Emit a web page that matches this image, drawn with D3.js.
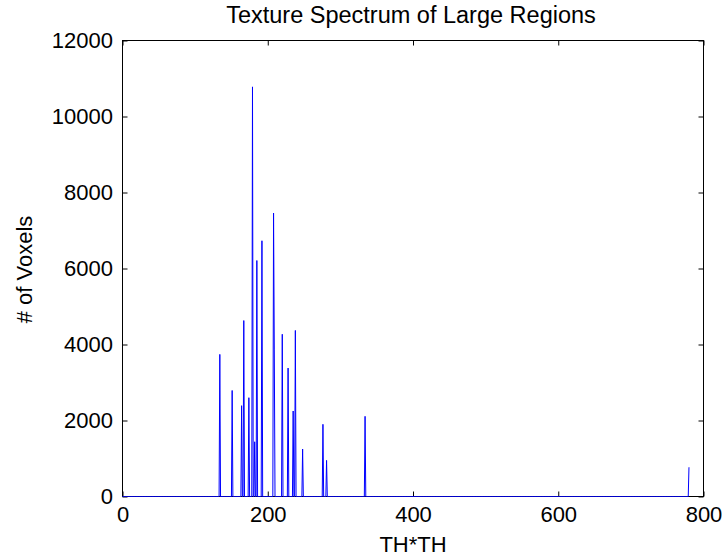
<!DOCTYPE html>
<html>
<head>
<meta charset="utf-8">
<script src="https://cdn.jsdelivr.net/npm/d3@7"></script>
<style>
  html, body { margin: 0; padding: 0; background: #fff; }
  svg { display: block; }
  text { font-family: "Liberation Sans", Arial, Helvetica, sans-serif; fill: #000; }
</style>
</head>
<body>
<svg id="chart" width="725" height="556"></svg>
<script>
// Texture spectrum: voxel counts per TH*TH bin (bins not listed hold zero voxels)
const binRange = [0, 780];
const thValues    = [134, 151, 164, 167, 174, 179, 182, 185, 192, 208, 209, 220, 228, 235, 238, 248, 276, 281, 334, 780];
const voxelCounts = [3740, 2790, 2390, 4630, 2600, 10780, 1440, 6210, 6730, 7460, 3880, 4270, 3380, 2250, 4370, 1250, 1900, 950, 2110, 770];
const xTicks = [0, 200, 400, 600, 800];
const yTicks = [0, 2000, 4000, 6000, 8000, 10000, 12000];
const titleText = "Texture Spectrum of Large Regions";
const xLabel = "TH*TH";
const yLabel = "# of Voxels";

// full histogram over every integer bin
const countByBin = new Map(thValues.map((v, i) => [v, voxelCounts[i]]));
const series = d3.range(binRange[0], binRange[1] + 1).map(b => ({ x: b, y: countByBin.get(b) || 0 }));

const svg = d3.select("#chart");
const plotLeft = 122.5, plotRight = 703.5, plotTop = 40.5, plotBottom = 496.5;

const x = d3.scaleLinear().domain([0, 800]).range([plotLeft, plotRight]);
const y = d3.scaleLinear().domain([0, 12000]).range([plotBottom, plotTop]);

const fs = 22;

// axes with inward ticks on all four sides
const styleAxis = g => {
  g.select(".domain").remove();
  g.selectAll(".tick line").attr("stroke", "#000").attr("stroke-width", 1);
  g.selectAll("text").attr("font-size", fs).attr("font-family", "Liberation Sans, Arial, sans-serif").attr("fill", "#000");
};

svg.append("g")
  .attr("transform", `translate(0,${plotBottom})`)
  .call(d3.axisBottom(x).tickValues(xTicks).tickFormat(d3.format("d")).tickSizeInner(-5).tickSizeOuter(0).tickPadding(9.5))
  .call(styleAxis);

svg.append("g")
  .attr("transform", `translate(${plotLeft},0)`)
  .call(d3.axisLeft(y).tickValues(yTicks).tickFormat(d3.format("d")).tickSizeInner(-5).tickSizeOuter(0).tickPadding(9.5))
  .call(styleAxis);

svg.append("g")
  .attr("transform", `translate(0,${plotTop})`)
  .call(d3.axisTop(x).tickValues(xTicks).tickFormat("").tickSizeInner(-5).tickSizeOuter(0))
  .call(styleAxis);

svg.append("g")
  .attr("transform", `translate(${plotRight},0)`)
  .call(d3.axisRight(y).tickValues(yTicks).tickFormat("").tickSizeInner(-5).tickSizeOuter(0))
  .call(styleAxis);

// axes box
svg.append("rect")
  .attr("x", plotLeft).attr("y", plotTop)
  .attr("width", plotRight - plotLeft).attr("height", plotBottom - plotTop)
  .attr("fill", "none").attr("stroke", "#000").attr("stroke-width", 1);

// plot line, drawn over the axes
svg.append("path")
  .datum(series)
  .attr("fill", "none")
  .attr("stroke", "#0000ff")
  .attr("stroke-width", 1)
  .attr("d", d3.line().x(d => x(d.x)).y(d => y(d.y)));

// title and axis labels
svg.append("text")
  .attr("x", 411).attr("y", 22.5)
  .attr("text-anchor", "middle").attr("font-size", 23.5)
  .text(titleText);

svg.append("text")
  .attr("x", (plotLeft + plotRight) / 2).attr("y", 552)
  .attr("text-anchor", "middle").attr("font-size", fs)
  .text(xLabel);

svg.append("text")
  .attr("transform", `translate(32,${(plotTop + plotBottom) / 2 + 1}) rotate(-90)`)
  .attr("text-anchor", "middle").attr("font-size", fs)
  .text(yLabel);
</script>
</body>
</html>
